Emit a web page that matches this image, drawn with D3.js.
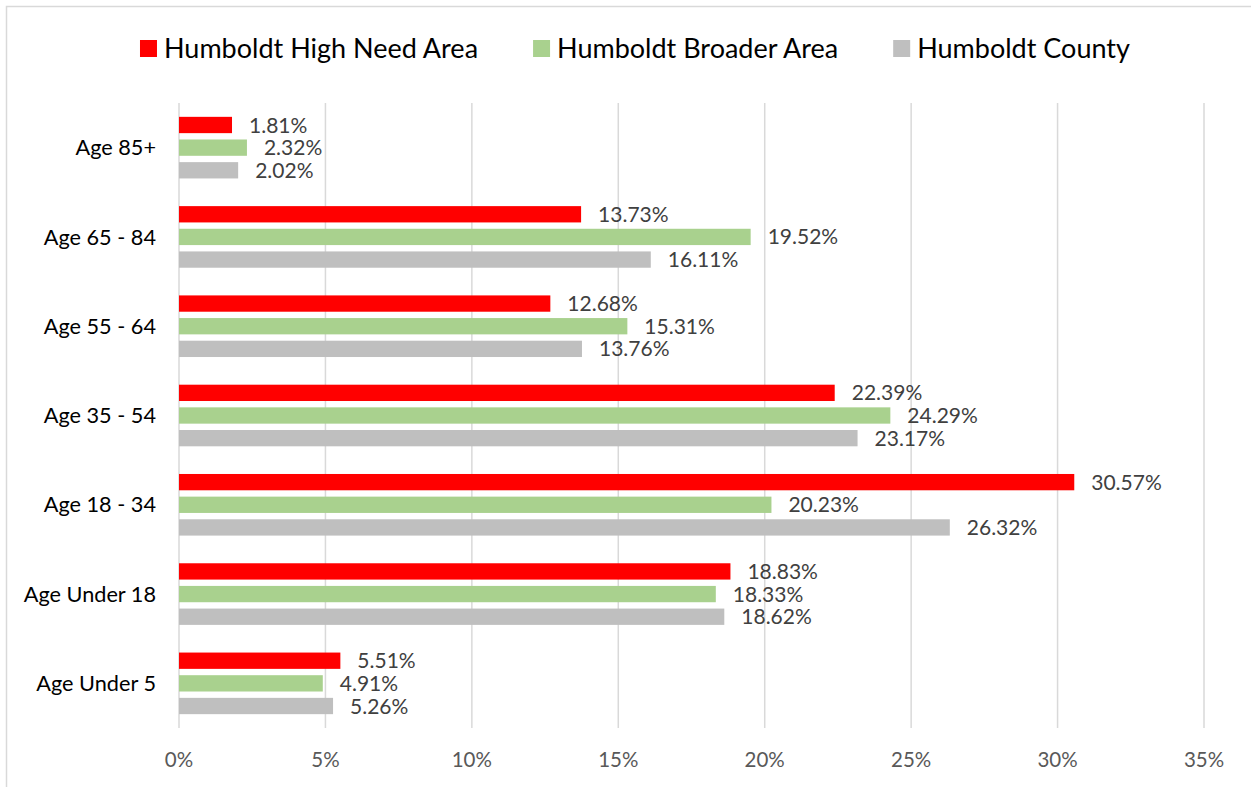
<!DOCTYPE html>
<html>
<head>
<meta charset="utf-8">
<script src="https://cdn.jsdelivr.net/npm/d3@7"></script>
<style>
  body { margin: 0; background: #fff; }
  svg { font-family: Lato, "Open Sans", sans-serif; }
</style>
</head>
<body>
<svg id="chart" width="1251" height="787"></svg>
<script>
var categories = ['Age 85+', 'Age 65 - 84', 'Age 55 - 64', 'Age 35 - 54', 'Age 18 - 34', 'Age Under 18', 'Age Under 5'];
var seriesNames = ['Humboldt High Need Area', 'Humboldt Broader Area', 'Humboldt County'];
var seriesColors = ['#ff0000', '#a9d18e', '#bfbfbf'];
var highNeed = [1.81, 13.73, 12.68, 22.39, 30.57, 18.83, 5.51];
var broader = [2.32, 19.52, 15.31, 24.29, 20.23, 18.33, 4.91];
var county = [2.02, 16.11, 13.76, 23.17, 26.32, 18.62, 5.26];
var xTicks = [0, 5, 10, 15, 20, 25, 30, 35];

var svg = d3.select('#chart');
var plotLeft = 179, plotRight = 1204, plotTop = 103, plotBottom = 728;

// chart frame
svg.append('rect')
  .attr('x', 6.5).attr('y', 6.5)
  .attr('width', 1260).attr('height', 800)
  .attr('fill', 'none')
  .attr('stroke', '#d9d9d9')
  .attr('stroke-width', 1.5);

var x = d3.scaleLinear().domain([0, 35]).range([plotLeft, plotRight]);
var y = d3.scaleBand().domain(categories).range([plotTop, plotBottom]).paddingInner(0.31).paddingOuter(0.155);
var ySub = d3.scaleBand().domain(seriesNames).range([0, y.bandwidth()]).paddingInner(0.28);

// gridlines
svg.append('g').selectAll('line')
  .data(xTicks)
  .enter().append('line')
  .attr('x1', function(d) { return x(d); })
  .attr('x2', function(d) { return x(d); })
  .attr('y1', plotTop)
  .attr('y2', plotBottom)
  .style('stroke', '#d9d9d9')
  .style('stroke-width', 1.5);

// x axis labels
svg.append('g').selectAll('text')
  .data(xTicks)
  .enter().append('text')
  .attr('x', function(d) { return x(d); })
  .attr('y', 767)
  .attr('text-anchor', 'middle')
  .style('font-size', '20.5px')
  .style('fill', '#595959')
  .text(function(d) { return d + '%'; });

// category labels
svg.append('g').selectAll('text')
  .data(categories)
  .enter().append('text')
  .attr('x', 156)
  .attr('y', function(d) { return y(d) + y.bandwidth() / 2; })
  .attr('dy', '0.35em')
  .attr('text-anchor', 'end')
  .style('font-size', '21.7px')
  .style('fill', '#000')
  .text(function(d) { return d; });

var rows = [];
var allSeries = [highNeed, broader, county];
categories.forEach(function(c, i) {
  seriesNames.forEach(function(s, j) {
    rows.push({cat: c, series: s, color: seriesColors[j], value: allSeries[j][i]});
  });
});

var groups = svg.append('g');
groups.selectAll('rect')
  .data(rows)
  .enter().append('rect')
  .attr('x', x(0))
  .attr('y', function(d) { return y(d.cat) + ySub(d.series); })
  .attr('width', function(d) { return x(d.value) - x(0); })
  .attr('height', ySub.bandwidth())
  .style('fill', function(d) { return d.color; });

groups.selectAll('text')
  .data(rows)
  .enter().append('text')
  .attr('x', function(d) { return x(d.value) + 17; })
  .attr('y', function(d) { return y(d.cat) + ySub(d.series) + ySub.bandwidth() / 2; })
  .attr('dy', '0.36em')
  .style('font-size', '21px')
  .style('fill', '#404040')
  .text(function(d) { return d.value.toFixed(2) + '%'; });

// legend
var legend = svg.append('g');
var items = legend.selectAll('g')
  .data(seriesNames)
  .enter().append('g');
items.append('rect')
  .attr('width', 17).attr('height', 17)
  .attr('y', 40)
  .style('fill', function(d, i) { return seriesColors[i]; });
items.append('text')
  .attr('x', 24)
  .attr('y', 48)
  .attr('dy', '0.36em')
  .style('font-size', '27px')
  .style('fill', '#000')
  .text(function(d) { return d; });

var widths = [];
items.each(function() { widths.push(this.getBBox().width); });
var gap = 55;
var total = d3.sum(widths) + gap * (widths.length - 1);
var cursor = 635 - total / 2;
items.attr('transform', function(d, i) {
  var t = 'translate(' + cursor + ',0)';
  cursor += widths[i] + gap;
  return t;
});
</script>
</body>
</html>
